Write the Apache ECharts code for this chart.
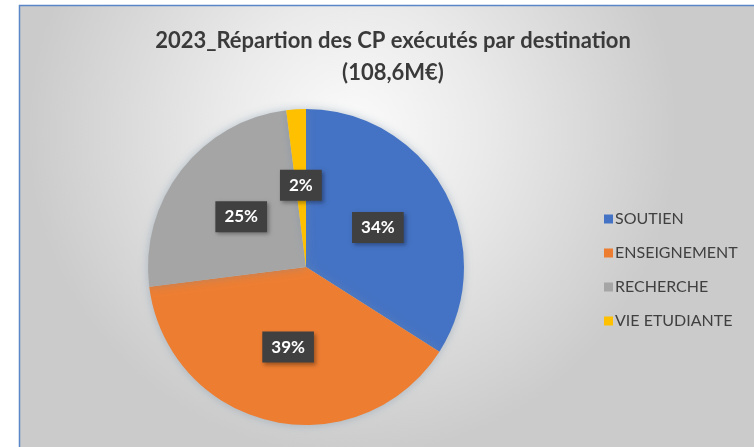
<!DOCTYPE html>
<html>
<head>
<meta charset="utf-8">
<script src="https://cdn.jsdelivr.net/npm/echarts@6/dist/echarts.min.js"></script>
<style>
  html, body { margin: 0; padding: 0; background: #fff; }
  #main { width: 754px; height: 447px; }
</style>
</head>
<body>
<div id="main"></div>
<script>
// destinations et parts des CP exécutés (en %)
const categories = ['SOUTIEN', 'ENSEIGNEMENT', 'RECHERCHE', 'VIE ETUDIANTE']
const values = [34, 39, 25, 2]
const colors = ['#4472c4', '#ed7d31', '#a5a5a5', '#ffc000']

const chart = echarts.init(document.getElementById('main'))

const option = {
  animation: false,
  graphic: [
    {
      type: 'rect',
      z: -10,
      shape: { x: 19.5, y: 5.5, width: 740, height: 450 },
      style: {
        fill: {
          type: 'radial', x: 0.45, y: 0.28, r: 0.72,
          colorStops: [
            { offset: 0, color: '#fbfbfb' },
            { offset: 0.4, color: '#eaeaea' },
            { offset: 1, color: '#cbcbcb' }
          ]
        },
        stroke: '#5a86c8',
        lineWidth: 1.5
      }
    }
  ],
  title: {
    text: '2023_Répartion des CP exécutés par destination\n(108,6M€)',
    left: 388,
    top: 20,
    textAlign: 'center',
    textStyle: {
      fontFamily: 'Lato',
      fontSize: 22,
      fontWeight: 'bold',
      color: '#3a3a3a',
      lineHeight: 32
    }
  },
  legend: {
    orient: 'vertical',
    left: 599,
    top: 206,
    itemWidth: 9,
    itemHeight: 9,
    itemGap: 18,
    icon: 'rect',
    data: categories,
    textStyle: {
      fontFamily: 'Lato',
      fontSize: 16,
      color: '#404040',
      padding: [0, 0, 0, -3]
    }
  },
  series: [
    {
      type: 'pie',
      center: [306, 267],
      radius: 158,
      startAngle: 90,
      clockwise: true,
      data: categories.map((name, i) => ({
        name,
        value: values[i],
        itemStyle: { color: colors[i] }
      })),
      itemStyle: {
        shadowBlur: 10,
        shadowColor: 'rgba(110,140,165,0.45)'
      },
      label: {
        position: 'inside',
        formatter: '{d}%',
        fontFamily: 'Lato',
        fontSize: 17,
        fontWeight: 'bold',
        color: '#ffffff',
        backgroundColor: '#404040',
        padding: [7, 9],
        shadowBlur: 4,
        shadowOffsetX: 2,
        shadowOffsetY: 2,
        shadowColor: 'rgba(0,0,0,0.35)'
      },
      labelLine: { show: false },
      emphasis: { disabled: true }
    }
  ]
}

chart.setOption(option)
</script>
</body>
</html>
